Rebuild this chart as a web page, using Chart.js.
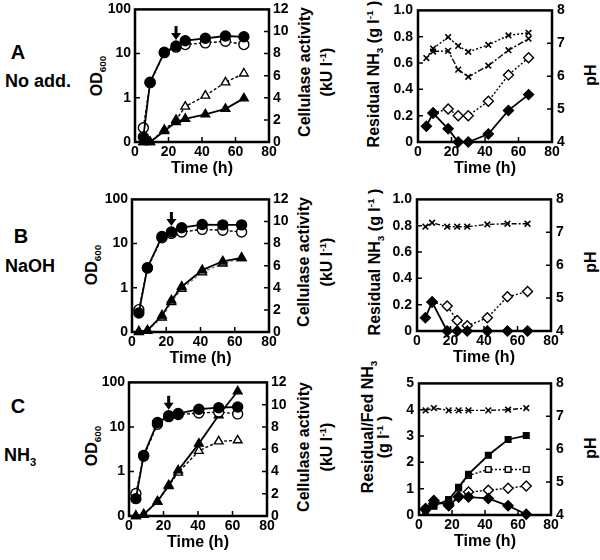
<!DOCTYPE html>
<html>
<head>
<meta charset="utf-8">
<script src="https://cdn.jsdelivr.net/npm/chart.js@4.4.0/dist/chart.umd.min.js"></script>
<style>
    body { margin: 0; width: 600px; height: 560px; background: #fff; position: relative; overflow: hidden;
           font-family: "Liberation Sans", Arial, sans-serif; font-weight: bold; color: #000; }
    canvas { position: absolute; }
    .lbl { position: absolute; white-space: nowrap; transform: translate(-50%, -50%); line-height: 1; }
    .rot { transform: translate(-50%, -50%) rotate(-90deg); font-size: 16px; }
    sub, sup { font-size: 0.62em; line-height: 0; }
</style>
</head>
<body>

<div class="lbl" style="left:18px; top:52px; font-size:20px;">A</div>
<div class="lbl" style="left:38px; top:81px; font-size:18px;">No add.</div>
<div class="lbl" style="left:21px; top:236px; font-size:20px;">B</div>
<div class="lbl" style="left:30px; top:266px; font-size:18px;">NaOH</div>
<div class="lbl" style="left:18px; top:406px; font-size:20px;">C</div>
<div class="lbl" style="left:20px; top:455px; font-size:18px;">NH<sub>3</sub></div>

<div class="lbl rot" style="left:97px; top:76px;">OD<sub>600</sub></div>
<div class="lbl rot" style="left:305px; top:72px;">Cellulase activity</div>
<div class="lbl rot" style="left:327px; top:72px;">(kU l<sup>-1</sup>)</div>
<div class="lbl rot" style="left:374px; top:74px;">Residual NH<sub>3</sub> (g l<sup>-1</sup> )</div>
<div class="lbl rot" style="left:591px; top:75px;">pH</div>

<div class="lbl rot" style="left:92px; top:265px;">OD<sub>600</sub></div>
<div class="lbl rot" style="left:304px; top:262px;">Cellulase activity</div>
<div class="lbl rot" style="left:327px; top:262px;">(kU l<sup>-1</sup>)</div>
<div class="lbl rot" style="left:375px; top:262px;">Residual NH<sub>3</sub> (g l<sup>-1</sup> )</div>
<div class="lbl rot" style="left:591px; top:262px;">pH</div>

<div class="lbl rot" style="left:92px; top:446px;">OD<sub>600</sub></div>
<div class="lbl rot" style="left:304px; top:447px;">Cellulase activity</div>
<div class="lbl rot" style="left:327px; top:447px;">(kU l<sup>-1</sup>)</div>
<div class="lbl rot" style="left:368px; top:427px;">Residual/Fed NH<sub>3</sub></div>
<div class="lbl rot" style="left:384px; top:437px;">(g l<sup>-1</sup> )</div>
<div class="lbl rot" style="left:591px; top:448px;">pH</div>

<script>
// ---- data ----
const timeTicks = [0, 20, 40, 60, 80];
const odTicks = [0.1, 1, 10, 100];
const odTickLabels = ['0', '1', '10', '100'];
const celTicks = [0, 2, 4, 6, 8, 10, 12];
const phTicks = [4, 5, 6, 7, 8];
const nh3Ticks = [0, 0.2, 0.4, 0.6, 0.8, 1.0];
const nh3TickLabels = ['0', '0.2', '0.4', '0.6', '0.8', '1.0'];
const fedTicks = [0, 1, 2, 3, 4, 5];

// A: no addition
const timeA = [5, 9, 17.5, 24.5, 30, 42, 54, 65];
const odA = [0.13, 2.25, 10.7, 14.8, 19.6, 22.2, 25, 24];
const odAopen = [0.21, 2.2, 10.5, 14, 16, 17.5, 19, 16];
const celA = [0, 0, 1.0, 1.8, 2.1, 2.5, 3.0, 3.95];
const celAopen = [0, 0, 1.1, 2.0, 3.2, 4.2, 5.4, 6.2];
const timeAr = [5, 9, 18, 24, 30, 42, 54, 66];
const nh3A = [0.12, 0.22, 0.10, 0, 0, 0.06, 0.24, 0.36];
const nh3Aopen = [null, 0.22, 0.25, 0.2, 0.2, 0.31, 0.51, 0.64];
const phA1 = [6.55, 6.84, 7.19, 6.92, 6.74, 6.95, 7.24, 7.32];
const phA2 = [null, 6.75, 6.77, 6.2, 5.98, 6.32, 6.79, 7.14];

// B: NaOH
const timeB = [4, 9, 17.5, 23, 29, 41, 53, 64];
const odB = [0.27, 2.85, 14.5, 18.3, 22.9, 27, 26.5, 26.5];
const odBopen = [0.32, 2.8, 13.5, 17, 18.3, 21, 20, 18.3];
const celB = [0.05, 0.15, 1.5, 2.86, 4.1, 5.6, 6.4, 6.7];
const celBopen = [0, 0.1, 1.3, 2.7, 3.9, 5.4, 6.2, 6.7];
const timeBr = [5, 9, 18, 24, 30, 42, 54, 66];
const nh3B = [0.1, 0.22, 0, 0, 0, 0, 0, 0];
const nh3Bopen = [null, 0.22, 0.19, 0.08, 0.04, 0.1, 0.26, 0.3];
const phB = [7.17, 7.29, 7.17, 7.17, 7.17, 7.24, 7.26, 7.26];

// C: NH3
const timeC = [4, 8.5, 16.5, 23, 28.5, 40.5, 52, 63];
const odC = [0.245, 2.3, 12.6, 17.8, 20, 25, 27, 28];
const odCopen = [0.32, 2.2, 11.5, 17, 19, 20.5, 21.6, 19.6];
const celC = [0, 0.15, 1.3, 2.75, 4.1, 6.5, 9.05, 11.2];
const celCopen = [0, 0.1, 1.3, 2.7, 3.9, 5.85, 6.7, 6.8];
const timeCr = [4, 9, 18, 24, 30, 42, 54, 65];
const fedC = [0.22, 0.35, 0.58, 1.05, 1.55, 2.27, 2.87, 3.02];
const fedCopen = [0.18, 0.33, 0.58, 1.03, 1.5, 1.73, 1.73, 1.73];
const nh3Copen = [0.2, 0.45, 0.42, 0.7, 0.87, 0.94, 1.02, 1.1];
const nh3C = [0.25, 0.55, 0.35, 0.68, 0.68, 0.63, 0.35, 0.03];
const phC = [7.18, 7.25, 7.18, 7.18, 7.18, 7.18, 7.2, 7.25];

// feeding start arrows (time, OD of the point below)
const arrowA = [24.5, 14.8];
const arrowB = [23, 18.3];
const arrowC = [23, 17.8];

Chart.defaults.font.family = '"Liberation Sans", Arial, sans-serif';
Chart.defaults.font.weight = 'bold';
Chart.defaults.font.size = 14;
Chart.defaults.color = '#000';

const pts = (xs, ys) => xs.map((x, i) => ({ x: x, y: ys[i] }));

// frame, inward ticks and arrow
const framePlugin = {
    id: 'frame',
    beforeDatasetsDraw(chart) {
        const { ctx, chartArea: a, scales } = chart;
        ctx.save();
        ctx.strokeStyle = '#000';
        ctx.lineWidth = 1.5;
        ctx.beginPath();
        scales.x.ticks.forEach(t => {
            const px = scales.x.getPixelForValue(t.value);
            if (px <= a.left + 1 || px >= a.right - 1) return;
            ctx.moveTo(px, a.bottom); ctx.lineTo(px, a.bottom - 5);
        });
        scales.y.ticks.forEach(t => {
            const py = scales.y.getPixelForValue(t.value);
            if (py <= a.top + 1 || py >= a.bottom - 1) return;
            ctx.moveTo(a.left, py); ctx.lineTo(a.left + 5, py);
        });
        scales.y2.ticks.forEach(t => {
            const py = scales.y2.getPixelForValue(t.value);
            if (py <= a.top + 1 || py >= a.bottom - 1) return;
            ctx.moveTo(a.right, py); ctx.lineTo(a.right - 5, py);
        });
        ctx.stroke();
        ctx.lineWidth = 2.5;
        ctx.strokeRect(a.left, a.top, a.width, a.height);
        ctx.restore();
    },
    afterDraw(chart) {
        const arrow = chart.options.plugins.frame && chart.options.plugins.frame.arrow;
        if (!arrow) return;
        const ctx = chart.ctx;
        const px = chart.scales.x.getPixelForValue(arrow[0]);
        const py = chart.scales.y.getPixelForValue(arrow[1]) - 6;
        ctx.save();
        ctx.fillStyle = '#000';
        ctx.fillRect(px - 1.5, py - 14, 3, 8);
        ctx.beginPath();
        ctx.moveTo(px - 5, py - 7);
        ctx.lineTo(px + 5, py - 7);
        ctx.lineTo(px, py);
        ctx.closePath();
        ctx.fill();
        ctx.restore();
    }
};

function series(data, axis, style, filled, dash, fillColor) {
    return {
        data: data,
        yAxisID: axis,
        pointStyle: style,
        pointRadius: style === 'crossRot' ? 4 : (style === 'rect' ? 4 : 5),
        pointBorderWidth: style === 'crossRot' ? 1.6 : 1.4,
        pointBackgroundColor: fillColor || (filled ? '#000' : '#fff'),
        pointBorderColor: '#000',
        borderColor: fillColor || '#000',
        borderWidth: filled ? 1.8 : 1.4,
        borderDash: dash || [],
        showLine: true,
        tension: 0,
        clip: false,
        spanGaps: false
    };
}

const noGrid = { display: false, drawTicks: false };

function makePanel(box, datasets, leftAxis, rightAxis, arrow) {
    const padL = 45, padR = 32, padT = 12, xAxisH = 36;
    const w = box.w + padL + padR, h = box.h + padT + xAxisH;
    const canvas = document.createElement('canvas');
    canvas.width = w; canvas.height = h;
    canvas.style.width = w + 'px'; canvas.style.height = h + 'px';
    canvas.style.left = (box.x - padL) + 'px';
    canvas.style.top = (box.y - padT) + 'px';
    document.body.appendChild(canvas);

    new Chart(canvas, {
        type: 'scatter',
        data: { datasets: datasets },
        plugins: [framePlugin],
        options: {
            responsive: false,
            animation: false,
            layout: { padding: { top: padT, left: 0, right: 0, bottom: 0 } },
            plugins: { legend: { display: false }, tooltip: { enabled: false }, frame: { arrow: arrow } },
            scales: {
                x: {
                    type: 'linear', min: 0, max: 80,
                    afterBuildTicks: s => { s.ticks = timeTicks.map(v => ({ value: v })); },
                    afterFit: s => { s.height = xAxisH; },
                    grid: noGrid, border: { display: false },
                    ticks: { padding: 2, maxRotation: 0 },
                    title: { display: true, text: 'Time (h)', font: { size: 16 }, padding: 0 }
                },
                y: Object.assign({
                    position: 'left',
                    afterFit: s => { s.width = padL; },
                    grid: noGrid, border: { display: false }
                }, leftAxis),
                y2: Object.assign({
                    position: 'right',
                    afterFit: s => { s.width = padR; },
                    grid: noGrid, border: { display: false }
                }, rightAxis)
            }
        }
    });
}

const odAxis = {
    type: 'logarithmic', min: 0.1, max: 100,
    afterBuildTicks: s => { s.ticks = odTicks.map(v => ({ value: v })); },
    ticks: { padding: 4, callback: (v, i) => odTickLabels[i] }
};
const celAxis = {
    type: 'linear', min: 0, max: 12,
    afterBuildTicks: s => { s.ticks = celTicks.map(v => ({ value: v })); },
    ticks: { padding: 4 }
};
const phAxis = {
    type: 'linear', min: 4, max: 8,
    afterBuildTicks: s => { s.ticks = phTicks.map(v => ({ value: v })); },
    ticks: { padding: 5 }
};
const nh3Axis = {
    type: 'linear', min: 0, max: 1,
    afterBuildTicks: s => { s.ticks = nh3Ticks.map(v => ({ value: v })); },
    ticks: { padding: 5, callback: (v, i) => nh3TickLabels[i] }
};
const fedAxis = {
    type: 'linear', min: 0, max: 5,
    afterBuildTicks: s => { s.ticks = fedTicks.map(v => ({ value: v })); },
    ticks: { padding: 5 }
};

// A
makePanel({ x: 135, y: 9, w: 134, h: 133 }, [
    series(pts(timeA, odA), 'y', 'circle', true),
    series(pts(timeA, odAopen), 'y', 'circle', false, [3, 2]),
    series(pts(timeA, celA), 'y2', 'triangle', true),
    series(pts(timeA, celAopen), 'y2', 'triangle', false, [3, 2])
], odAxis, celAxis, arrowA);

makePanel({ x: 418, y: 9, w: 134, h: 133 }, [
    series(pts(timeAr, nh3A), 'y', 'rectRot', true),
    series(pts(timeAr, nh3Aopen), 'y', 'rectRot', false, [2, 2]),
    series(pts(timeAr, phA1), 'y2', 'crossRot', false, [2, 2]),
    series(pts(timeAr, phA2), 'y2', 'crossRot', false, [6, 2, 2, 2])
], nh3Axis, phAxis);

// B
makePanel({ x: 132, y: 199, w: 137, h: 133 }, [
    series(pts(timeB, odB), 'y', 'circle', true),
    series(pts(timeB, odBopen), 'y', 'circle', false, [3, 2]),
    series(pts(timeB, celB), 'y2', 'triangle', true),
    series(pts(timeB, celBopen), 'y2', 'triangle', false, [3, 2], '#888')
], odAxis, celAxis, arrowB);

makePanel({ x: 417, y: 198, w: 134, h: 133 }, [
    series(pts(timeBr, nh3B), 'y', 'rectRot', true),
    series(pts(timeBr, nh3Bopen), 'y', 'rectRot', false, [2, 2]),
    series(pts(timeBr, phB), 'y2', 'crossRot', false, [5, 2, 2, 2])
], nh3Axis, phAxis);

// C
makePanel({ x: 129, y: 382, w: 138, h: 134 }, [
    series(pts(timeC, odC), 'y', 'circle', true),
    series(pts(timeC, odCopen), 'y', 'circle', false, [3, 2]),
    series(pts(timeC, celC), 'y2', 'triangle', true),
    series(pts(timeC, celCopen), 'y2', 'triangle', false, [3, 2])
], odAxis, celAxis, arrowC);

makePanel({ x: 419, y: 382, w: 132, h: 133 }, [
    series(pts(timeCr, fedC), 'y', 'rect', true),
    series(pts(timeCr, nh3C), 'y', 'rectRot', true),
    series(pts(timeCr, fedCopen), 'y', 'rect', false, [2, 2]),
    series(pts(timeCr, nh3Copen), 'y', 'rectRot', false, [2, 2]),
    series(pts(timeCr, phC), 'y2', 'crossRot', false, [5, 2, 2, 2])
], fedAxis, phAxis);
</script>
</body>
</html>
